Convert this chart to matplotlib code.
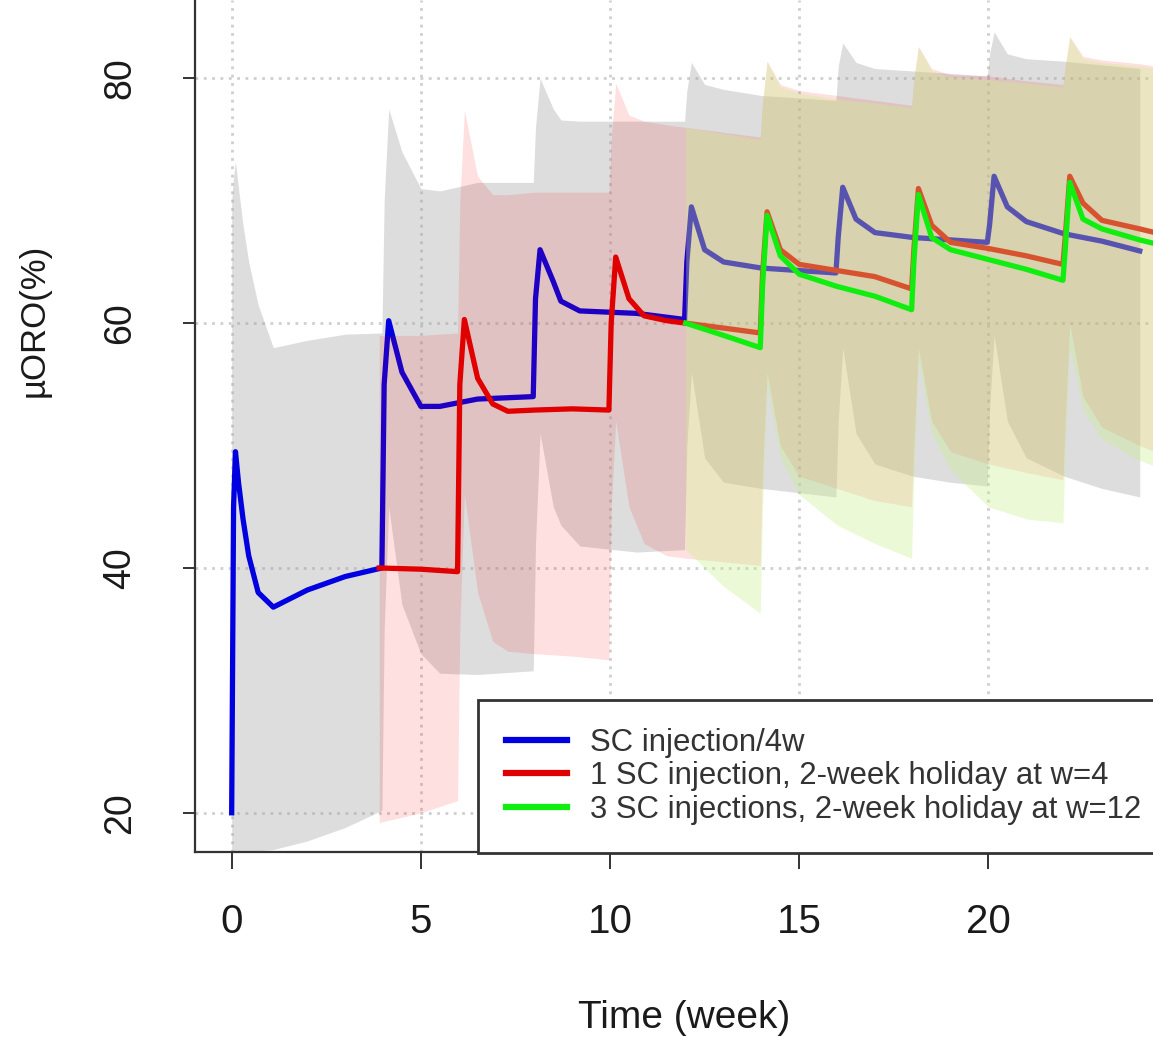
import numpy as np
import matplotlib.pyplot as plt
from matplotlib.lines import Line2D

plt.rcParams['font.family'] = ['Liberation Sans', 'DejaVu Sans']

# SC injection every 4 weeks: mean and band (weeks, %)
t_b = [0, 0.05, 0.1, 0.18, 0.3, 0.45, 0.7, 1.1, 2, 3, 3.97,
       4.03, 4.15, 4.5, 5, 5.5, 6.5, 7.97,
       8.03, 8.15, 8.5, 8.7, 9.2, 10.7, 11.97,
       12.03, 12.15, 12.5, 13, 14, 15.97,
       16.03, 16.15, 16.5, 17, 18, 19, 19.97,
       20.03, 20.15, 20.5, 21, 22, 23, 24]
mu_b = [20, 45, 49.5, 47, 44, 41, 38, 36.8, 38.2, 39.3, 40,
        55, 60.2, 56, 53.2, 53.2, 53.8, 54,
        62, 66, 63.4, 61.8, 61, 60.8, 60.3,
        65, 69.5, 66, 65, 64.5, 64.1,
        67, 71.1, 68.5, 67.4, 67.0, 66.8, 66.6,
        68, 72, 69.5, 68.3, 67.3, 66.7, 65.9]
lo_b = [16, 16.1, 16.2, 16.3, 16.5, 16.7, 16.9, 17.0, 17.7, 18.8, 20.2,
        35, 45, 37, 33, 31.4, 31.3, 31.6,
        42, 51, 45, 43.5, 41.8, 41.3, 41.5,
        50, 56, 49, 47, 46.5, 45.8,
        52, 58, 51, 48.5, 47.5, 47, 46.7,
        53, 59, 52, 49, 47.5, 46.5, 45.8]
hi_b = [70, 72, 73.2, 71, 68, 65, 61.5, 58, 58.6, 59.1, 59.2,
        70, 77.5, 74, 71, 70.8, 71.5, 71.5,
        76, 80, 77.5, 76.6, 76.5, 76.5, 76.5,
        79, 81.3, 79.5, 79.1, 78.6, 78.2,
        81, 82.9, 81.3, 80.8, 80.6, 80.4, 80.2,
        82, 83.8, 82, 81.6, 81.4, 81.1, 80.8]

# 1 SC injection, 2-week holiday at w=4
t_r = [3.9, 5, 5.97,
       6.03, 6.15, 6.5, 6.9, 7.3, 8, 9, 9.97,
       10.03, 10.15, 10.5, 10.9, 11.5, 12, 13, 13.97,
       14.03, 14.15, 14.5, 15, 16, 17, 17.97,
       18.03, 18.15, 18.5, 19, 20, 21, 21.97,
       22.03, 22.15, 22.5, 23, 24, 24.4]
mu_r = [40, 39.9, 39.7,
        55, 60.3, 55.5, 53.4, 52.8, 52.9, 53, 52.9,
        60, 65.4, 62, 60.6, 60.2, 60, 59.6, 59.2,
        64, 69.1, 66, 64.8, 64.3, 63.8, 62.8,
        66, 71, 68, 66.6, 66.1, 65.5, 64.8,
        67, 72, 69.8, 68.4, 67.7, 67.4]
lo_r = [19.2, 20, 21,
        35, 46, 38, 34, 33.2, 33, 32.8, 32.5,
        45, 52, 45, 42, 41, 40.8, 40.5, 40.2,
        48, 56, 50, 47.5, 46.5, 45.5, 45,
        50, 58, 52, 49.5, 48.5, 47.8, 47.2,
        52, 60, 54, 51.5, 50, 49.5]
hi_r = [59, 59, 59.2,
        70, 77.4, 72, 70.5, 70.5, 70.7, 70.7, 70.7,
        75, 79.6, 77, 76.5, 76.2, 76, 75.6, 75.2,
        78, 81.4, 79.5, 79, 78.6, 78.2, 77.8,
        80, 82.6, 80.8, 80.3, 80.2, 79.8, 79.5,
        81, 83.4, 81.8, 81.5, 81.2, 81]

# 3 SC injections, 2-week holiday at w=12
t_g = [12, 13, 13.97,
       14.03, 14.15, 14.5, 15, 16, 17, 17.97,
       18.03, 18.15, 18.5, 19, 20, 21, 21.97,
       22.03, 22.15, 22.5, 23, 24, 24.4]
mu_g = [60, 59, 58,
        63, 68.8, 65.5, 64, 63, 62.2, 61.1,
        65, 70.5, 67, 66, 65.2, 64.4, 63.5,
        66, 71.5, 68.5, 67.7, 66.8, 66.5]
lo_g = [41.5, 38.5, 36.3,
        45, 55, 49, 46, 43.5, 42, 40.8,
        48, 57, 51, 48, 45, 44, 43.7,
        50, 58, 53, 50.5, 48.8, 48.3]
hi_g = [76, 75.5, 75,
        78, 81.4, 79.3, 78.8, 78.3, 78, 77.6,
        80, 82.6, 80.6, 80.1, 79.9, 79.6, 79.3,
        81, 83.4, 81.6, 81.3, 81, 80.8]

labels = ['SC injection/4w',
          '1 SC injection, 2-week holiday at w=4',
          '3 SC injections, 2-week holiday at w=12']
xticks = [0, 5, 10, 15, 20]
yticks = [20, 40, 60, 80]

fig = plt.figure(figsize=(11.53, 10.40), dpi=100)
ax = fig.add_axes([0.1691, 0.1808, 0.8309, 0.8192])

for x in xticks:
    ax.axvline(x, color='#cfcfcf', lw=2, ls=(0, (1, 2)), zorder=0.5)
for y in yticks:
    ax.axhline(y, color='#cfcfcf', lw=2, ls=(0, (1, 2)), zorder=0.5)

# order matters: each band is drawn over the previous line
ax.fill_between(t_b, lo_b, hi_b, color='#a0a0a0', alpha=0.35, lw=0, zorder=1)
ax.plot(t_b, mu_b, color='#0000e0', lw=3.8, zorder=2)
ax.fill_between(t_r, lo_r, hi_r, color='#ff0000', alpha=0.12, lw=0, zorder=3)
ax.plot(t_r, mu_r, color='#e00000', lw=3.8, zorder=4)
ax.fill_between(t_g, lo_g, hi_g, color='#c8f08c', alpha=0.35, lw=0, zorder=5)
ax.plot(t_g, mu_g, color='#10ee10', lw=3.8, zorder=6)

ax.set_xlim(-0.97, 24.35)
ax.set_ylim(16.8, 86.4)
ax.set_xticks(xticks)
ax.set_yticks(yticks)
ax.spines['top'].set_visible(False)
ax.spines['right'].set_visible(False)
for s in ['left', 'bottom']:
    ax.spines[s].set_linewidth(1.6)
    ax.spines[s].set_color('#333333')
ax.tick_params(axis='x', length=12, width=1.4, color='#333333',
               labelsize=29, pad=25, labelcolor='#1a1a1a')
ax.tick_params(axis='y', length=9, width=1.4, color='#333333',
               labelsize=27, pad=32, labelcolor='#1a1a1a')
for lab in ax.get_yticklabels():
    lab.set_rotation(90)
    lab.set_va('center')

fig.text(684 / 1153, 1 - 1018 / 1040, 'Time (week)', fontsize=28,
         ha='center', va='center', color='#1a1a1a')
fig.text(34 / 1153, 1 - 320 / 1040, 'µORO(%)', fontsize=25, rotation=90,
         ha='center', va='center', color='#1a1a1a')

handles = [Line2D([], [], color='#0000e0', lw=4.5),
           Line2D([], [], color='#e00000', lw=4.5),
           Line2D([], [], color='#10ee10', lw=4.5)]
leg = fig.legend(handles, labels, loc='lower left',
                 bbox_to_anchor=(478 / 1153, 187 / 1040), borderaxespad=0,
                 fontsize=22.4, frameon=True, fancybox=False, framealpha=1,
                 edgecolor='#333333', handlelength=1.95, handletextpad=0.75,
                 borderpad=0.9, labelspacing=0.12)
leg.get_frame().set_linewidth(2)
for txt in leg.get_texts():
    txt.set_color('#333333')
leg.set_zorder(10)

fig.savefig('out.png', dpi=100)
